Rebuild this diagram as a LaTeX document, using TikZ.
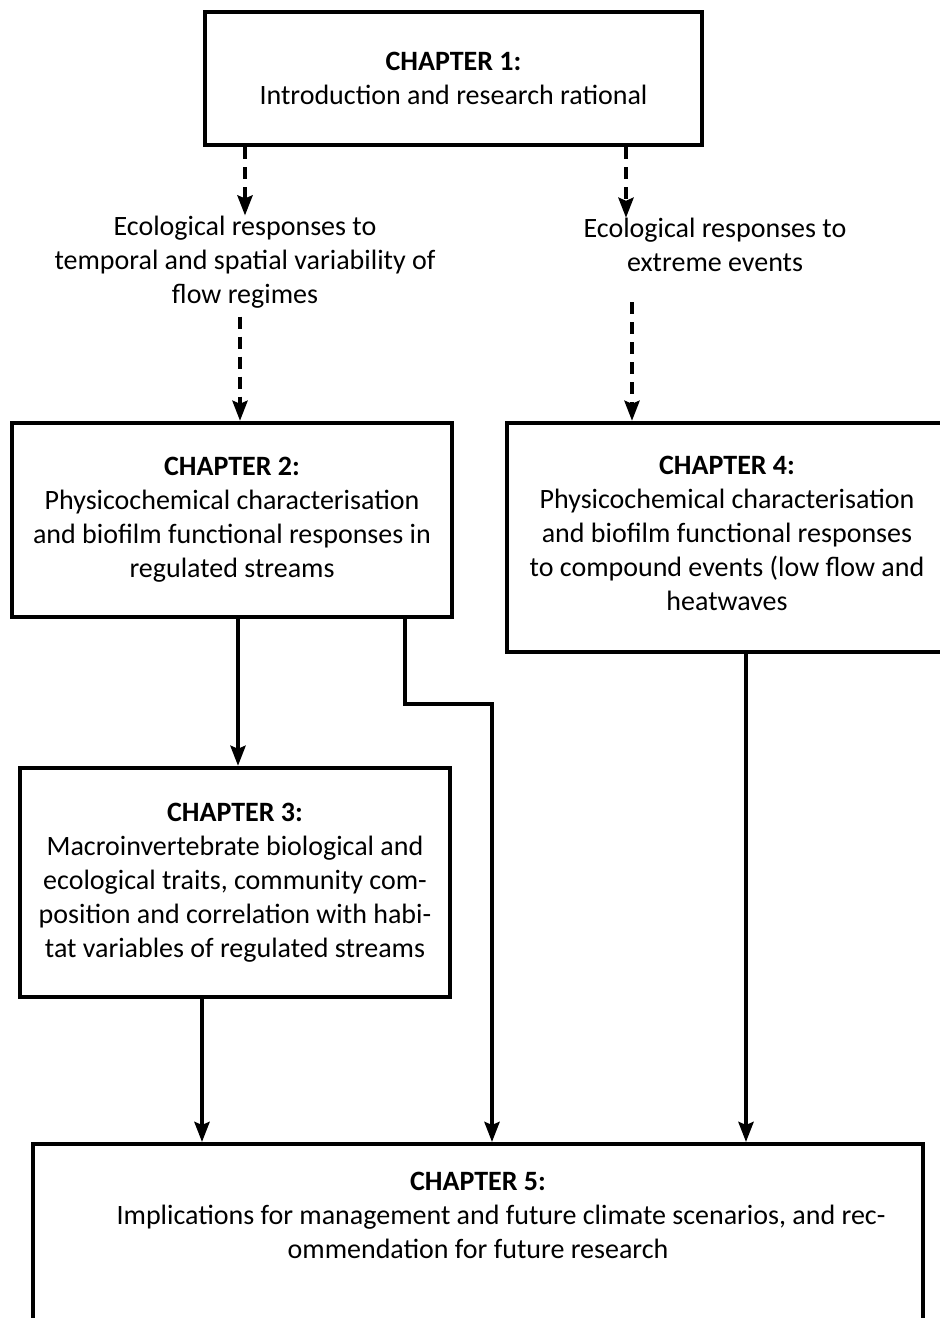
\documentclass[tikz,border=0pt]{standalone}
\usepackage{fontspec}
\setmainfont{Carlito}
\usetikzlibrary{arrows.meta}
\tikzset{every picture/.style={x=0.5pt,y=-0.5pt}}
\tikzset{chapbox/.style={rectangle,draw,line width=2.2pt,align=center,inner sep=0pt,font=\fontsize{14}{17}\selectfont}}
\tikzset{annot/.style={align=center,inner sep=0pt,font=\fontsize{14}{17}\selectfont}}
\tikzset{edge/.style={line width=2pt,-{Stealth[length=10pt,width=7.5pt,inset=1.5pt]}}}
\tikzset{dashedge/.style={edge,dash pattern=on 6pt off 4pt}}

\begin{document}
\begin{tikzpicture}
\useasboundingbox (0,0) rectangle (939,1318);

\node [chapbox,minimum width=248.5pt,minimum height=66.5pt] (ch1) at (453.5,78.5) {\textbf{CHAPTER 1:}\\Introduction and research rational};

\node [annot] (t1) at (245,262) {Ecological responses to\\temporal and spatial variability of\\flow regimes};
\node [annot] (t2) at (715,245) {Ecological responses to\\extreme events};

\node [chapbox,minimum width=220pt,minimum height=97pt] (ch2) at (232,520) {\textbf{CHAPTER 2:}\\Physicochemical characterisation\\and biofilm functional responses in\\regulated streams};
\node [chapbox,minimum width=220pt,minimum height=114.5pt] (ch4) at (727,537.5) {\textbf{CHAPTER 4:}\\Physicochemical characterisation\\and biofilm functional responses\\to compound events (low flow and\\heatwaves\\[-13pt]};
\node [chapbox,minimum width=215pt,minimum height=114.5pt] (ch3) at (235,882.5) {\textbf{CHAPTER 3:}\\Macroinvertebrate biological and\\ecological traits, community com-\\position and correlation with habi-\\tat variables of regulated streams};

\node [chapbox,minimum width=445pt,minimum height=100pt,anchor=north] (ch5) at (478,1142) {};
\node [annot] (ch5txt) at (478,1215) {\textbf{CHAPTER 5:}\\\hspace*{23pt}Implications for management and future climate scenarios, and rec-\\ommendation for future research};

\draw [dashedge] (ch1.south -| t1.north) -- (t1.north);
\draw [dashedge] ([xshift=-2.5pt,yshift=-4pt]t1.south) -- ([xshift=4pt]ch2.north);
\draw [dashedge] ([xshift=-44.5pt]t2.north |- ch1.south) -- ([xshift=-44.5pt]t2.north);
\draw [dashedge] ([xshift=-47.5pt,yshift=-15pt]ch4.north |- t2.south) -- ([xshift=-47.5pt]ch4.north);

\draw [edge] ([xshift=3pt]ch2.south) -- ([xshift=3pt]ch2.south |- ch3.north);
\draw [edge] ([xshift=86.5pt]ch2.south) -- ++(0,85) -| ([xshift=7pt]ch5.north);
\draw [edge] ([xshift=-16.5pt]ch3.south) -- ([xshift=-16.5pt]ch3.south |- ch5.north);
\draw [edge] ([xshift=9.5pt]ch4.south) -- ([xshift=9.5pt]ch4.south |- ch5.north);
\end{tikzpicture}
\end{document}
